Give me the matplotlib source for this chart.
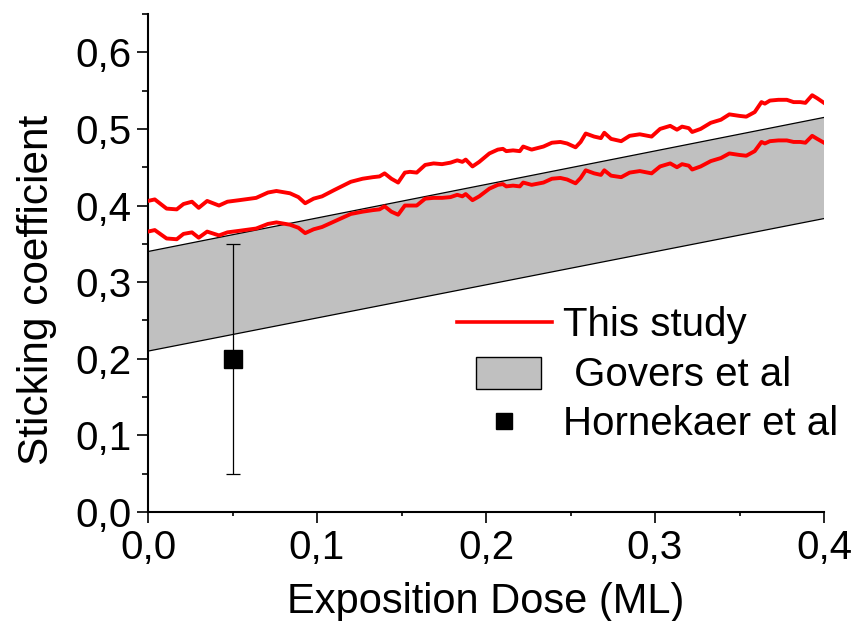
import numpy as np
import matplotlib
matplotlib.use("Agg")
import matplotlib.pyplot as plt
from matplotlib.patches import Patch, Rectangle
from matplotlib.lines import Line2D
from matplotlib.legend_handler import HandlerPatch
from matplotlib.ticker import MultipleLocator, FuncFormatter

plt.rcParams['font.family'] = ['Liberation Sans', 'DejaVu Sans']

#%% data

# this study: two red curves (upper / lower bound)
dose = [0.000, 0.004, 0.011, 0.017, 0.021, 0.026, 0.030, 0.035, 0.042, 0.047,
        0.054, 0.064, 0.071, 0.076, 0.084, 0.089, 0.093, 0.098, 0.103, 0.110,
        0.120, 0.127, 0.133, 0.137, 0.140, 0.144, 0.148, 0.152, 0.155, 0.159,
        0.164, 0.169, 0.174, 0.179, 0.183, 0.186, 0.188, 0.192, 0.196, 0.202,
        0.207, 0.210, 0.212, 0.216, 0.220, 0.222, 0.227, 0.234, 0.239, 0.244,
        0.248, 0.253, 0.256, 0.259, 0.264, 0.268, 0.270, 0.274, 0.280, 0.285,
        0.291, 0.298, 0.303, 0.309, 0.313, 0.316, 0.320, 0.322, 0.327, 0.333,
        0.339, 0.344, 0.350, 0.354, 0.359, 0.363, 0.365, 0.368, 0.373, 0.378,
        0.382, 0.386, 0.389, 0.393, 0.396, 0.400]

study_upper = [0.406, 0.408, 0.396, 0.395, 0.402, 0.405, 0.397, 0.406, 0.400, 0.405,
               0.407, 0.410, 0.417, 0.419, 0.416, 0.411, 0.403, 0.409, 0.412, 0.420,
               0.431, 0.435, 0.437, 0.438, 0.442, 0.435, 0.430, 0.443, 0.444, 0.443,
               0.453, 0.455, 0.454, 0.456, 0.459, 0.457, 0.460, 0.451, 0.457, 0.468,
               0.473, 0.474, 0.471, 0.472, 0.471, 0.477, 0.473, 0.477, 0.482, 0.483,
               0.481, 0.476, 0.483, 0.494, 0.490, 0.488, 0.495, 0.487, 0.484, 0.491,
               0.493, 0.490, 0.500, 0.504, 0.499, 0.503, 0.501, 0.496, 0.500, 0.508,
               0.512, 0.519, 0.517, 0.516, 0.522, 0.535, 0.533, 0.537, 0.538, 0.538,
               0.535, 0.535, 0.534, 0.544, 0.540, 0.534]

study_lower = [0.366, 0.368, 0.357, 0.356, 0.363, 0.365, 0.358, 0.366, 0.361, 0.365,
               0.367, 0.370, 0.376, 0.378, 0.375, 0.371, 0.364, 0.369, 0.372, 0.379,
               0.389, 0.392, 0.394, 0.395, 0.399, 0.392, 0.388, 0.400, 0.400, 0.400,
               0.409, 0.410, 0.410, 0.411, 0.414, 0.412, 0.415, 0.407, 0.412, 0.422,
               0.427, 0.428, 0.425, 0.426, 0.425, 0.430, 0.427, 0.430, 0.435, 0.436,
               0.434, 0.429, 0.436, 0.446, 0.442, 0.440, 0.446, 0.439, 0.437, 0.443,
               0.445, 0.442, 0.451, 0.455, 0.450, 0.454, 0.452, 0.447, 0.451, 0.458,
               0.462, 0.468, 0.466, 0.465, 0.471, 0.483, 0.481, 0.484, 0.485, 0.485,
               0.483, 0.483, 0.482, 0.491, 0.487, 0.482]

# Govers et al: band between two straight lines
govers_x = [0.0, 0.4]
govers_low = [0.210, 0.383]
govers_high = [0.340, 0.515]

# Hornekaer et al: single point with error bar
horn_x = [0.05]
horn_y = [0.20]
horn_err = [0.15]

#%% plot
fs = 29
fig = plt.figure(figsize=(8.58, 6.21), dpi=100)
ax = fig.add_axes([148/858, 1 - 512/621, (824 - 148)/858, (512 - 14)/621])

ax.fill_between(govers_x, govers_low, govers_high, facecolor='#c0c0c0', edgecolor='none', zorder=1)
ax.plot(govers_x, govers_low, color='black', lw=0.9, zorder=2)
ax.plot(govers_x, govers_high, color='black', lw=0.9, zorder=2)

ax.plot(dose, study_upper, color='red', lw=2.8, zorder=3)
ax.plot(dose, study_lower, color='red', lw=2.8, zorder=3)

ax.errorbar(horn_x, horn_y, yerr=horn_err, fmt='s', color='black', ms=13,
            ecolor='black', elinewidth=0.9, capsize=5, capthick=0.9, zorder=4)

ax.set_xlim(0, 0.4)
ax.set_ylim(0, 0.65)
ax.xaxis.set_major_locator(MultipleLocator(0.1))
ax.xaxis.set_minor_locator(MultipleLocator(0.05))
ax.yaxis.set_major_locator(MultipleLocator(0.1))
ax.yaxis.set_minor_locator(MultipleLocator(0.05))
comma = FuncFormatter(lambda v, p: f"{v:.1f}".replace('.', ','))
ax.xaxis.set_major_formatter(comma)
ax.yaxis.set_major_formatter(comma)

for s in ['top', 'right']:
    ax.spines[s].set_visible(False)
for s in ['left', 'bottom']:
    ax.spines[s].set_linewidth(1.5)

ax.tick_params(which='major', direction='out', length=8, width=1.2, labelsize=fs)
ax.tick_params(axis='x', which='major', pad=4)
ax.tick_params(axis='y', which='major', pad=4)
ax.tick_params(axis='y', which='minor', direction='out', length=4.5, width=1.2)
ax.tick_params(axis='x', which='minor', direction='out', length=3, width=1.2)

ax.set_xlabel('Exposition Dose (ML)', fontsize=30)
ax.set_ylabel('Sticking coefficient', fontsize=30.5)
ax.xaxis.set_label_coords(0.5, -0.14)
ax.yaxis.set_label_coords(-0.135, 0.446)

# legend
def small_rect(legend, orig_handle, xdescent, ydescent, width, height, fontsize):
    w = width * 0.68
    return Rectangle((xdescent + (width - w) / 2 + 3, -ydescent - 0.1 * height), w, height * 1.1)

h_line = Line2D([], [], color='red', lw=2.6)
h_band = Patch(facecolor='#c0c0c0', edgecolor='black', lw=1)
h_pt = Line2D([], [], ls='none', marker='s', color='black', ms=12)
ax.legend([h_line, h_band, h_pt], ['This study', ' Govers et al', 'Hornekaer et al'],
          loc='upper left', bbox_to_anchor=(457/858, 1 - 306/621), bbox_transform=fig.transFigure,
          frameon=False, fontsize=fs, borderpad=0, borderaxespad=0, handlelength=2.35,
          handletextpad=0.27, labelspacing=0.29,
          handler_map={Patch: HandlerPatch(patch_func=small_rect)})

fig.savefig('out.png', dpi=100)
